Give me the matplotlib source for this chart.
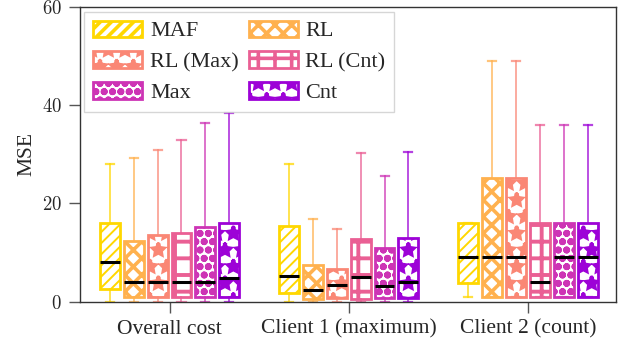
import matplotlib
matplotlib.use("Agg")
import matplotlib.pyplot as plt
from matplotlib.patches import Patch

plt.rcParams['font.family'] = ['Liberation Serif', 'DejaVu Serif']
plt.rcParams['mathtext.fontset'] = 'cm'
plt.rcParams['hatch.linewidth'] = 2.6

groups = ["Overall cost", "Client 1 (maximum)", "Client 2 (count)"]
methods = ["MAF", "RL", "RL (Max)", "RL (Cnt)", "Max", "Cnt"]
colors = ['#ffd700', '#ffb14e', '#fa8775', '#ea5f94', '#cd34b5', '#9d02d7']
hatches = ['///', 'xx', '*', '+', 'oo', '*']
yticks = [0, 20, 40, 60]

# per method: values for the 3 groups
whislo = {
    "MAF":      [0.0, 0.0, 1.0],
    "RL":       [0.0, 0.0, 1.0],
    "RL (Max)": [0.0, 0.0, 1.0],
    "RL (Cnt)": [0.0, 0.0, 1.0],
    "Max":      [0.0, 0.0, 1.0],
    "Cnt":      [0.0, 0.0, 1.0],
}
q1 = {
    "MAF":      [2.6, 1.7, 3.8],
    "RL":       [1.0, 0.55, 1.0],
    "RL (Max)": [1.0, 0.7, 1.0],
    "RL (Cnt)": [1.0, 0.5, 1.0],
    "Max":      [1.0, 0.7, 1.0],
    "Cnt":      [0.9, 0.7, 1.0],
}
med = {
    "MAF":      [8.0, 5.3, 9.0],
    "RL":       [4.0, 2.4, 9.0],
    "RL (Max)": [4.0, 3.3, 9.0],
    "RL (Cnt)": [4.0, 5.1, 4.0],
    "Max":      [4.0, 3.2, 9.0],
    "Cnt":      [4.8, 4.0, 9.0],
}
q3 = {
    "MAF":      [16.1, 15.5, 16.1],
    "RL":       [12.4, 7.4, 25.1],
    "RL (Max)": [13.5, 6.7, 25.1],
    "RL (Cnt)": [14.0, 12.7, 16.1],
    "Max":      [15.3, 11.0, 16.1],
    "Cnt":      [16.1, 12.9, 16.1],
}
whishi = {
    "MAF":      [28.0, 28.0, 16.1],
    "RL":       [29.2, 16.9, 49.0],
    "RL (Max)": [31.0, 14.8, 49.0],
    "RL (Cnt)": [33.0, 30.3, 36.0],
    "Max":      [36.3, 25.7, 36.0],
    "Cnt":      [38.5, 30.4, 36.0],
}

hatch_lw = [1.4, 2.6, 2.6, 2.8, 2.6, 2.6]


def apply_hatch_lw(patch, lw):
    if hasattr(patch, "set_hatch_linewidth"):
        patch.set_hatch_linewidth(lw)
    else:
        patch._hatch_linewidth = lw


fig = plt.figure(figsize=(6.2, 3.42), dpi=100)
ax = fig.add_axes([0.129, 0.118, 0.864, 0.861])

step = 0.1333
width = 0.111
for i, m in enumerate(methods):
    stats = []
    for g in range(len(groups)):
        stats.append(dict(whislo=whislo[m][g], q1=q1[m][g], med=med[m][g],
                          q3=q3[m][g], whishi=whishi[m][g], fliers=[]))
    pos = [g + (i - 2.5) * step for g in range(len(groups))]
    c = colors[i]
    bp = ax.bxp(stats, positions=pos, widths=width, patch_artist=True,
                showfliers=False, capwidths=0.045,
                boxprops=dict(facecolor='white', edgecolor=c, linewidth=2.0, hatch=hatches[i]),
                whiskerprops=dict(color=c, linewidth=1.3, alpha=0.75),
                capprops=dict(color=c, linewidth=1.6, alpha=0.75),
                medianprops=dict(color='black', linewidth=2.2))
    for b in bp['boxes']:
        apply_hatch_lw(b, hatch_lw[i])

ax.set_xlim(-0.5, 2.49)
ax.set_ylim(0, 60)
ax.set_yticks(yticks)
ax.set_yticklabels([f"${v}$" for v in yticks])
ax.set_xticks(range(len(groups)))
ax.set_xticklabels(groups)
ax.set_ylabel("MSE", fontsize=15.5, color='#262626', labelpad=4)
ax.tick_params(axis='both', colors='#555555', labelcolor='#262626',
               length=8, width=1, pad=5)
ax.tick_params(axis='x', labelsize=15.5)
ax.tick_params(axis='y', labelsize=13.5)
for s in ax.spines.values():
    s.set_color('#333333')
    s.set_linewidth(1.0)

order = [0, 2, 4, 1, 3, 5]  # row-wise fill in a 2-column legend
handles = []
for i in order:
    p = Patch(facecolor='white', edgecolor=colors[i], hatch=hatches[i],
              linewidth=2.0, label=methods[i])
    apply_hatch_lw(p, hatch_lw[i])
    handles.append(p)
leg = ax.legend(handles=handles, ncol=2, loc='upper left', fontsize=16,
                frameon=True, fancybox=False, edgecolor='#cccccc',
                handlelength=2.2, handleheight=0.75, labelspacing=0.45,
                columnspacing=0.45, handletextpad=0.35, borderpad=0.4,
                borderaxespad=0.2)
leg.get_frame().set_linewidth(1.0)
for t in leg.get_texts():
    t.set_color('#262626')

fig.savefig("out.png", dpi=100)
